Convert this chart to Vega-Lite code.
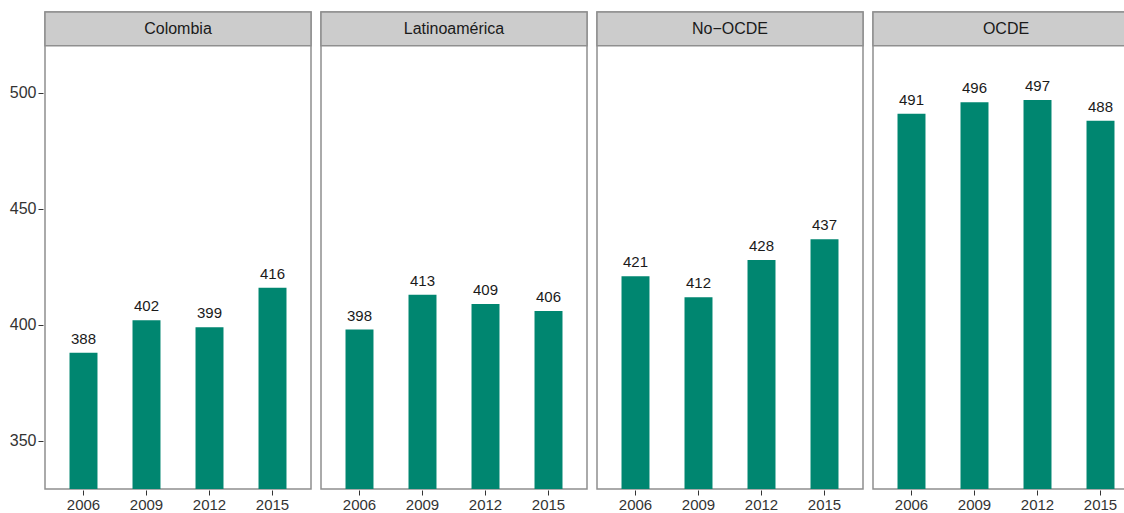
{
  "$schema": "https://vega.github.io/schema/vega-lite/v6.json",
  "padding": {"left": 9, "top": 10, "right": 0, "bottom": 0},
  "background": "white",
  "config": {
    "font": "Liberation Sans",
    "view": {"stroke": "#8f8f8f", "strokeWidth": 1.5},
    "axis": {"grid": false, "domain": false, "tickColor": "#333333", "tickSize": 5, "labelColor": "#333333", "labelFontSize": 15, "labelPadding": 2, "title": null}
  },
  "data": {
    "values": [
      {"grupo": "Colombia", "anio": "2006", "puntaje": 388},
      {"grupo": "Colombia", "anio": "2009", "puntaje": 402},
      {"grupo": "Colombia", "anio": "2012", "puntaje": 399},
      {"grupo": "Colombia", "anio": "2015", "puntaje": 416},
      {"grupo": "Latinoamérica", "anio": "2006", "puntaje": 398},
      {"grupo": "Latinoamérica", "anio": "2009", "puntaje": 413},
      {"grupo": "Latinoamérica", "anio": "2012", "puntaje": 409},
      {"grupo": "Latinoamérica", "anio": "2015", "puntaje": 406},
      {"grupo": "No−OCDE", "anio": "2006", "puntaje": 421},
      {"grupo": "No−OCDE", "anio": "2009", "puntaje": 412},
      {"grupo": "No−OCDE", "anio": "2012", "puntaje": 428},
      {"grupo": "No−OCDE", "anio": "2015", "puntaje": 437},
      {"grupo": "OCDE", "anio": "2006", "puntaje": 491},
      {"grupo": "OCDE", "anio": "2009", "puntaje": 496},
      {"grupo": "OCDE", "anio": "2012", "puntaje": 497},
      {"grupo": "OCDE", "anio": "2015", "puntaje": 488}
    ]
  },
  "facet": {
    "column": {"field": "grupo", "type": "nominal", "sort": ["Colombia", "Latinoamérica", "No−OCDE", "OCDE"], "header": null}
  },
  "spacing": 6,
  "spec": {
    "width": 266,
    "height": 477,
    "encoding": {
      "x": {"field": "anio", "type": "ordinal", "scale": {"paddingInner": 0.556, "paddingOuter": 0.389}, "axis": {"labelAngle": 0}},
      "y": {"field": "puntaje", "type": "quantitative", "scale": {"domain": [329.3, 534.9], "zero": false, "nice": false}, "axis": {"values": [350, 400, 450, 500], "labelFontSize": 16}}
    },
    "layer": [
      {"mark": {"type": "bar", "color": "#008670", "clip": true}},
      {"mark": {"type": "text", "fontSize": 15, "color": "#1a1a1a", "baseline": "alphabetic", "dy": -9}, "encoding": {"text": {"field": "puntaje", "type": "quantitative"}}},
      {
        "transform": [{"filter": "datum.anio === '2006'"}],
        "mark": {"type": "rect", "fill": "#cccccc", "stroke": "#8f8f8f", "strokeWidth": 1.5},
        "encoding": {"x": {"value": 0}, "x2": {"value": 266}, "y": {"datum": 520.3}, "y2": {"datum": 534.9}}
      },
      {
        "transform": [{"filter": "datum.anio === '2006'"}],
        "mark": {"type": "text", "fontSize": 16, "color": "#1a1a1a", "baseline": "middle"},
        "encoding": {"x": {"value": 133}, "y": {"datum": 527.6}, "text": {"field": "grupo", "type": "nominal"}}
      }
    ]
  }
}
